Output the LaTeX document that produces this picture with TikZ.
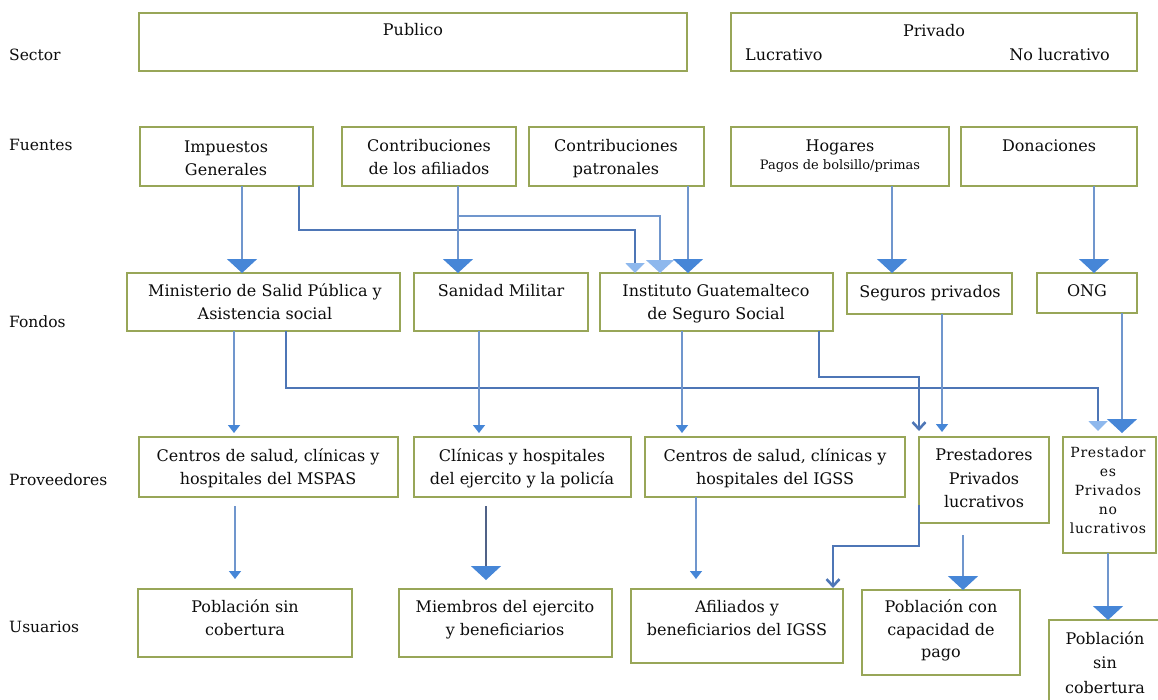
\documentclass[tikz,border=0pt]{standalone}
\usepackage{fontspec}
\setmainfont{DejaVu Serif}
\usetikzlibrary{arrows.meta}
\definecolor{boxc}{RGB}{152,166,88}
\definecolor{linec}{RGB}{112,150,205}
\definecolor{lined}{RGB}{78,118,182}
\definecolor{lineg}{RGB}{80,98,135}
\definecolor{headd}{RGB}{70,134,215}
\definecolor{headl}{RGB}{142,184,237}
\definecolor{txtc}{RGB}{12,12,12}
\begin{document}
\begin{tikzpicture}[x=1pt,y=-1pt,
  box/.style={draw=boxc, line width=2pt, anchor=north west, inner sep=0pt, outer sep=0pt},
  txt/.style={anchor=north, inner sep=0pt, align=center, text=txtc, font=\fontsize{16}{22.5}\selectfont},
  smalltxt/.style={anchor=base, inner sep=0pt, text=txtc, font=\fontsize{13}{14}\selectfont},
  lbl/.style={anchor=west, inner sep=0pt, text=txtc, font=\fontsize{15.5}{18}\selectfont},
  conn/.style={draw=linec, line width=1.5pt},
  connd/.style={draw=lined, line width=2pt},
  connt/.style={draw=lined, line width=2.6pt},
  bigD/.style={-{Triangle[width=30pt,length=14pt,color=headd]}},
  medL/.style={-{Triangle[width=28pt,length=13pt,color=headl]}},
  smallL/.style={-{Triangle[width=19pt,length=10pt,color=headl]}},
  smallD/.style={-{Triangle[width=12pt,length=8pt,color=headd]}},
  barb/.style={-{Straight Barb[width=13pt,length=7pt]}}
]
\useasboundingbox (0,0) rectangle (1158,699);

% row labels
\node[lbl] (lsec) at (9,55) {Sector};
\node[lbl] (lfue) at (9,145) {Fuentes};
\node[lbl] (lfon) at (9,322) {Fondos};
\node[lbl] (lpro) at (9,480) {Proveedores};
\node[lbl] (lusu) at (9,627) {Usuarios};

% Sector
\node[box, minimum width=548pt, minimum height=58pt] (pub) at (139,13) {};
\node[txt] (tpub) at (413,20) {\strut Publico};
\node[box, minimum width=406pt, minimum height=58pt] (pri) at (731,13) {};
\node[txt] (tpri) at (934,21) {\strut Privado};
\node[txt, anchor=north west] (tluc) at (745,45) {\strut Lucrativo};
\node[txt, anchor=north east] (tnol) at (1110,45) {\strut No lucrativo};

% Fuentes
\node[box, minimum width=173pt, minimum height=59pt] (imp) at (140,127) {};
\node[txt] (timp) at (226,137) {\strut Impuestos\\Generales};
\node[box, minimum width=174pt, minimum height=59pt] (afi) at (342,127) {};
\node[txt] (tafi) at (429,136) {\strut Contribuciones\\de los afiliados};
\node[box, minimum width=175pt, minimum height=59pt] (pat) at (529,127) {};
\node[txt] (tpat) at (616,136) {\strut Contribuciones\\patronales};
\node[box, minimum width=218pt, minimum height=59pt] (hog) at (731,127) {};
\node[txt] (thog) at (840,136) {\strut Hogares};
\node[smalltxt] (thog2) at (840,169) {Pagos de bolsillo/primas};
\node[box, minimum width=176pt, minimum height=59pt] (don) at (961,127) {};
\node[txt] (tdon) at (1049,136) {\strut Donaciones};

% Fondos
\node[box, minimum width=273pt, minimum height=58pt] (min) at (127,273) {};
\node[txt] (tmin) at (265,281) {\strut Ministerio de Salid Pública y\\Asistencia social};
\node[box, minimum width=174pt, minimum height=58pt] (san) at (414,273) {};
\node[txt] (tsan) at (501,281) {\strut Sanidad Militar};
\node[box, minimum width=233pt, minimum height=58pt] (igss) at (600,273) {};
\node[txt] (tigss) at (716,281) {\strut Instituto Guatemalteco\\de Seguro Social};
\node[box, minimum width=165pt, minimum height=41pt] (seg) at (847,273) {};
\node[txt] (tseg) at (930,282) {\strut Seguros privados};
\node[box, minimum width=100pt, minimum height=40pt] (ong) at (1037,273) {};
\node[txt] (tong) at (1087,281) {\strut ONG};

% Proveedores
\node[box, minimum width=259pt, minimum height=60pt] (cms) at (139,437) {};
\node[txt] (tcms) at (268,446) {\strut Centros de salud, clínicas y\\hospitales del MSPAS};
\node[box, minimum width=217pt, minimum height=60pt] (cli) at (414,437) {};
\node[txt] (tcli) at (522,446) {\strut Clínicas y hospitales\\del ejercito y la policía};
\node[box, minimum width=260pt, minimum height=60pt] (cig) at (645,437) {};
\node[txt] (tcig) at (775,446) {\strut Centros de salud, clínicas y\\hospitales del IGSS};
\node[box, minimum width=130pt, minimum height=86pt] (pl) at (919,437) {};
\node[txt, font=\fontsize{16}{23.5}\selectfont] (tpl) at (984,444) {\strut Prestadores\\Privados\\lucrativos};
\node[box, minimum width=93pt, minimum height=116pt] (pnl) at (1063,437) {};
\node[txt, font=\fontsize{14}{19}\selectfont\addfontfeature{LetterSpace=5}] (tpnl) at (1108,444) {\strut Prestador\\es\\Privados\\no\\lucrativos};

% Usuarios
\node[box, minimum width=214pt, minimum height=68pt] (u1) at (138,589) {};
\node[txt] (tu1) at (245,597) {\strut Población sin\\cobertura};
\node[box, minimum width=213pt, minimum height=68pt] (u2) at (399,589) {};
\node[txt] (tu2) at (505,597) {\strut Miembros del ejercito\\y beneficiarios};
\node[box, minimum width=212pt, minimum height=74pt] (u3) at (631,589) {};
\node[txt] (tu3) at (737,597) {\strut Afiliados y\\beneficiarios del IGSS};
\node[box, minimum width=158pt, minimum height=85pt] (u4) at (862,590) {};
\node[txt] (tu4) at (941,597) {\strut Población con\\capacidad de\\pago};
\node[box, minimum width=113pt, minimum height=95pt] (u5) at (1049,620) {};
\node[txt, font=\fontsize{16}{24.5}\selectfont] (tu5) at (1105,627) {\strut Población\\sin\\cobertura};

% Fuentes -> Fondos
\coordinate (afj) at (458,216);
\draw[conn, bigD] (imp.south -| 242,0) -- (min.north -| 242,0);
\draw[connd, smallL] (imp.south -| 299,0) |- (635,230) -- (igss.north -| 635,0);
\draw[conn, bigD] (afi.south -| 458,0) -- (san.north -| 458,0);
\draw[conn, medL] (afj) -| (igss.north -| 660,0);
\draw[conn, bigD] (pat.south -| 688,0) -- (igss.north -| 688,0);
\draw[conn, bigD] (hog.south -| 892,0) -- (seg.north -| 892,0);
\draw[conn, bigD] (don.south -| 1094,0) -- (ong.north -| 1094,0);

% Fondos -> Proveedores
\draw[conn, smallD, shorten >=4pt] (min.south -| 234,0) -- (cms.north -| 234,0);
\draw[connd, smallL, shorten >=6pt] (min.south -| 286,0) |- (1098,388) -- (pnl.north -| 1098,0);
\draw[conn, smallD, shorten >=4pt] (san.south -| 479,0) -- (cli.north -| 479,0);
\draw[conn, smallD, shorten >=4pt] (igss.south -| 682,0) -- (cig.north -| 682,0);
\draw[connt, barb, shorten >=6pt] (igss.south -| 819,0) |- (919,377) -- (pl.north -| 919,0);
\draw[conn, smallD, shorten >=5pt] (seg.south -| 942,0) -- (pl.north -| 942,0);
\draw[conn, bigD, shorten >=4pt] (ong.south -| 1122,0) -- (pnl.north -| 1122,0);

% Proveedores -> Usuarios
\draw[conn, smallD, shorten <=9pt, shorten >=10pt] (cms.south -| 235,0) -- (u1.north -| 235,0);
\draw[draw=lineg, line width=1.2pt, bigD, shorten <=9pt, shorten >=9pt] (cli.south -| 486,0) -- (u2.north -| 486,0);
\draw[conn, smallD, shorten >=10pt] (cig.south -| 696,0) -- (u3.north -| 696,0);
\draw[connt, barb, shorten >=1pt] (pl.west |- 0,505) -- (919,546) -| (u3.north -| 833,0);
\draw[conn, bigD, shorten <=12pt] (pl.south -| 963,0) -- (u4.north -| 963,0);
\draw[conn, bigD] (pnl.south -| 1108,0) -- (u5.north -| 1108,0);
\end{tikzpicture}
\end{document}
